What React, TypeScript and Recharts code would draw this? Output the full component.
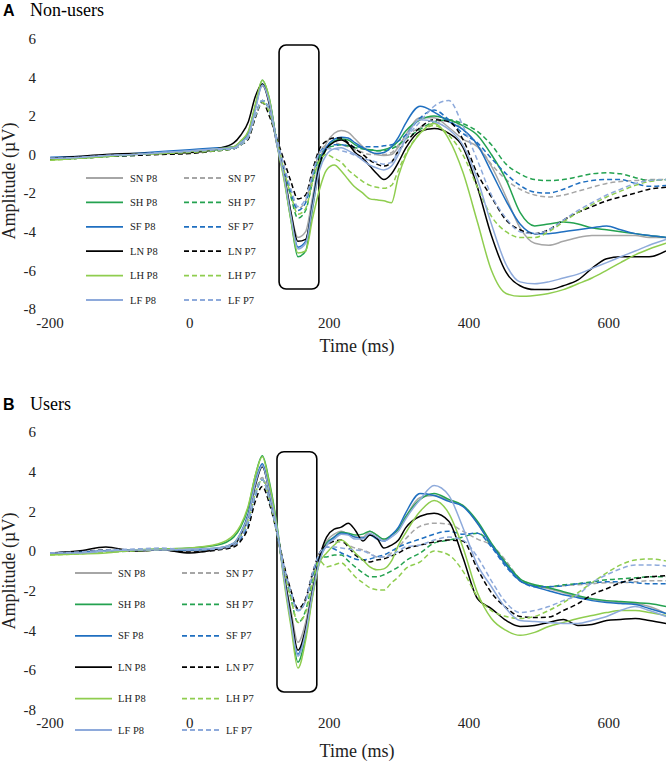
import { LineChart, Line, XAxis, YAxis, ReferenceArea, Legend } from "recharts";

// sample times (ms)
const timeMs = [
  -200, -160, -120, -80, -40, 0, 40,
  63, 73, 84, 94, 104, 114, 125, 135, 145, 155, 166, 176, 186, 196, 207, 217, 227,
  237, 248, 258, 268, 278, 289, 299, 309,
  330, 350, 371, 391, 412, 432, 453, 473, 494, 514, 535, 556, 576, 597, 617, 638, 658, 682,
];

const conditions = ["SN", "SH", "SF", "LN", "LH", "LF"];
const conditionColors = ["#a6a6a6", "#24a250", "#1f6fc0", "#000000", "#8fcd4f", "#8eaadb"];
const xTicks = [-200, 0, 200, 400, 600];
const yTicks = [-8, -6, -4, -2, 0, 2, 4, 6];

// A: Non-users
const nonSN_P8 = [-0.2,-0.15,-0.05,0,0.1,0.15,0.3, 0.4,0.7,1.2,2.5,3.55,2.7,0.6,-1.0,-3.0,-4.3,-4.0,-2.2,-0.3,0.6,1.1,1.25,1.15, 0.8,0.4,0.15,0,-0.05,0,0.4,1.0, 1.9,1.9,1.4,0.8,0.4,-0.6,-2.2,-3.8,-4.6,-4.7,-4.5,-4.3,-4.2,-4.2,-4.2,-4.2,-4.3,-4.3];
const nonSH_P8 = [-0.25,-0.2,-0.1,0,0.1,0.15,0.25, 0.35,0.6,1.1,2.5,3.85,2.9,0.6,-1.2,-3.4,-5.3,-5.0,-2.8,-0.6,0.3,0.7,0.8,0.75, 0.5,0.3,0.25,0.2,0.25,0.4,0.7,1.2, 1.8,2.0,1.8,1.5,1.0,0.0,-1.3,-3.0,-3.7,-3.6,-3.5,-3.6,-3.8,-3.9,-4.0,-4.1,-4.2,-4.3];
const nonSF_P8 = [-0.15,-0.1,-0.05,0.05,0.15,0.25,0.35, 0.4,0.65,1.1,2.4,3.65,2.8,0.6,-1.1,-3.2,-4.8,-4.5,-2.5,-0.4,0.4,0.8,0.9,0.85, 0.6,0.35,0.15,0.05,0.1,0.4,0.9,1.6, 2.5,2.2,1.7,1.3,0.5,-0.9,-2.4,-3.6,-4.1,-4.1,-4.0,-3.9,-3.8,-3.7,-3.9,-4.1,-4.2,-4.3];
const nonLN_P8 = [-0.2,-0.1,0,0.05,0.05,0.1,0.3, 0.6,1.0,1.7,3.0,3.65,2.6,0.5,-1.0,-3.0,-4.5,-4.4,-2.6,-0.5,0.3,0.65,0.75,0.55, 0.1,-0.2,-0.6,-1.0,-1.3,-1.0,-0.4,0.3, 1.2,1.35,1.1,0.4,-1.7,-4.2,-6.1,-6.8,-7.0,-7.0,-6.8,-6.5,-5.9,-5.4,-5.3,-5.3,-5.3,-5.0];
const nonLH_P8 = [-0.3,-0.2,-0.1,0,0.05,0.15,0.3, 0.4,0.7,1.2,2.6,3.85,2.9,0.5,-1.3,-3.4,-5.1,-5.0,-3.3,-1.8,-0.8,-0.55,-0.85,-1.3, -1.7,-2.0,-2.3,-2.35,-2.4,-2.5,-1.1,-0.1, 1.1,1.6,0.8,-0.9,-3.5,-6.0,-7.2,-7.35,-7.3,-7.2,-7.0,-6.7,-6.4,-6.0,-5.6,-5.2,-4.9,-4.6];
const nonLF_P8 = [-0.2,-0.15,-0.05,0,0.1,0.2,0.3, 0.35,0.6,1.0,2.3,3.6,2.7,0.5,-1.1,-3.2,-4.9,-4.6,-2.7,-0.8,0.0,0.3,0.35,0.2, 0.0,-0.3,-0.55,-0.7,-0.8,-0.6,0.0,0.8, 1.8,1.7,1.3,0.5,-1.3,-3.6,-5.7,-6.6,-6.7,-6.6,-6.4,-6.2,-5.9,-5.6,-5.3,-5.0,-4.7,-4.4];
const nonSN_P7 = [-0.2,-0.15,-0.1,0,0.05,0.1,0.2, 0.3,0.5,0.9,2.0,2.8,2.3,0.8,-0.6,-1.9,-2.8,-2.4,-1.1,0.1,0.5,0.6,0.5,0.4, 0.25,0.1,0,0,0,0.1,0.5,0.9, 1.4,1.6,1.8,1.3,0.5,-0.5,-1.3,-1.8,-2.1,-2.2,-2.1,-1.9,-1.7,-1.5,-1.4,-1.35,-1.3,-1.3];
const nonSH_P7 = [-0.25,-0.2,-0.1,-0.05,0.05,0.1,0.2, 0.3,0.5,0.9,2.0,2.8,2.3,0.7,-0.8,-2.2,-3.3,-2.9,-1.4,-0.1,0.3,0.45,0.5,0.45, 0.35,0.3,0.25,0.2,0.2,0.3,0.5,0.8, 1.3,1.7,1.8,1.6,1.2,0.5,-0.5,-1.0,-1.3,-1.35,-1.3,-1.15,-1.0,-0.95,-1.0,-1.2,-1.35,-1.3];
const nonSF_P7 = [-0.2,-0.15,-0.05,0,0.1,0.15,0.25, 0.3,0.5,0.9,2.0,2.8,2.3,0.7,-0.7,-2.0,-2.9,-2.5,-1.1,0.1,0.4,0.5,0.5,0.45, 0.4,0.4,0.4,0.4,0.45,0.5,0.7,1.0, 1.9,2.3,1.8,1.1,0.6,-0.2,-1.0,-1.6,-1.95,-2.0,-1.8,-1.5,-1.35,-1.3,-1.3,-1.5,-1.65,-1.6];
const nonLN_P7 = [-0.25,-0.2,-0.1,-0.05,0,0.05,0.2, 0.3,0.5,0.8,1.9,2.7,2.0,0.8,-0.3,-1.4,-2.3,-2.1,-0.8,0.3,0.7,0.85,0.85,0.6, 0.3,0,-0.3,-0.5,-0.6,-0.4,0.2,0.6, 1.4,1.8,1.7,0.8,-1.0,-2.2,-3.4,-3.9,-4.1,-3.9,-3.4,-3.0,-2.7,-2.4,-2.2,-2.0,-1.8,-1.7];
const nonLH_P7 = [-0.3,-0.2,-0.1,0,0.05,0.1,0.2, 0.3,0.5,0.9,2.0,2.7,2.2,0.7,-0.8,-2.1,-3.1,-2.8,-1.4,-0.3,0,-0.2,-0.4,-0.8, -1.1,-1.4,-1.6,-1.7,-1.75,-1.6,-0.8,0, 1.1,1.5,1.0,0,-1.7,-3.2,-4.0,-4.3,-4.3,-4.0,-3.5,-3.0,-2.6,-2.2,-1.9,-1.6,-1.4,-1.3];
const nonLF_P7 = [-0.2,-0.15,-0.05,0,0.1,0.15,0.25, 0.3,0.5,0.9,2.0,2.8,2.3,0.8,-0.6,-1.8,-2.7,-2.3,-1.0,0.1,0.3,0.3,0.2,0.1, -0.05,-0.2,-0.3,-0.4,-0.5,-0.4,0.2,0.8, 1.7,2.5,2.8,1.5,-0.3,-2.1,-3.3,-4.0,-4.1,-3.9,-3.4,-2.9,-2.5,-2.1,-1.8,-1.5,-1.35,-1.3];

// B: Users
const usrSN_P8 = [-0.1,-0.05,0,0,0.05,0,0.1, 0.3,0.8,1.8,3.4,4.3,3.0,1.1,-1.2,-3.0,-4.6,-3.6,-1.8,-0.3,0.5,0.85,1.0,0.85, 0.7,0.7,1.0,0.8,0.55,0.8,1.1,1.7, 2.7,2.8,2.55,2.3,1.4,0.3,-0.7,-1.5,-1.75,-1.9,-2.1,-2.3,-2.45,-2.55,-2.6,-2.65,-2.8,-3.15];
const usrSH_P8 = [-0.15,-0.1,0,0.05,0.1,0.15,0.3, 0.7,1.2,2.2,3.8,4.8,3.5,1.3,-1.3,-3.6,-5.6,-4.3,-2.2,-0.5,0.4,0.7,0.95,0.9, 0.8,0.85,1.0,0.8,0.6,0.8,1.1,1.7, 2.6,2.9,2.6,2.3,1.5,0.4,-0.6,-1.4,-1.7,-1.85,-2.05,-2.25,-2.4,-2.5,-2.55,-2.6,-2.65,-2.8];
const usrSF_P8 = [-0.1,-0.05,0,0.05,0.05,0.05,0.15, 0.4,0.9,1.9,3.5,4.4,3.1,1.1,-1.3,-3.4,-5.2,-4.0,-2.0,-0.4,0.3,0.7,0.9,0.85, 0.7,0.65,0.8,0.6,0.5,0.8,1.2,1.9, 2.9,2.8,2.5,2.25,1.4,0.3,-0.7,-1.5,-1.8,-2.0,-2.2,-2.35,-2.5,-2.6,-2.65,-2.7,-2.9,-3.15];
const usrLN_P8 = [-0.1,0,0.2,0,0.05,-0.1,0.1, 0.3,0.8,1.8,3.3,4.25,3.0,1.0,-1.2,-3.2,-5.0,-3.9,-2.0,-0.3,0.7,1.1,1.2,1.4, 1.05,0.5,0.8,0.65,0.15,0.3,0.55,1.15, 1.75,1.9,1.5,-0.3,-2.4,-2.9,-3.5,-3.8,-3.75,-3.6,-3.45,-3.75,-3.7,-3.5,-3.45,-3.4,-3.5,-3.65];
const usrLH_P8 = [-0.2,-0.15,-0.1,0.05,0.1,0.15,0.35, 0.8,1.3,2.3,3.8,4.75,3.4,1.2,-1.5,-3.8,-5.9,-4.5,-2.3,-0.6,-0.1,0.3,0.55,0.3, -0.1,-0.45,-0.8,-0.95,-0.9,-0.5,0.3,0.9, 2.0,2.55,1.9,0.2,-2.1,-3.4,-4.0,-4.25,-4.1,-3.8,-3.6,-3.4,-3.25,-3.1,-3.0,-3.0,-3.1,-3.25];
const usrLF_P8 = [-0.1,-0.1,0,0.05,0.05,0.1,0.15, 0.4,0.9,1.8,3.4,4.3,3.0,1.1,-1.3,-3.5,-5.3,-4.1,-2.1,-0.5,0.3,0.6,0.85,0.8, 0.6,0.6,0.9,0.7,0.5,0.7,1.0,1.6, 2.6,3.3,2.8,1.2,-0.7,-1.8,-2.9,-3.5,-3.55,-3.6,-3.65,-3.65,-3.5,-3.3,-3.0,-2.8,-3.0,-3.3];
const usrSN_P7 = [-0.1,-0.05,0,0.05,0.1,0.05,0.1, 0.3,0.7,1.6,3.0,3.7,2.7,1.0,-0.7,-2.0,-3.0,-2.5,-1.2,-0.2,0.3,0.45,0.45,0.3, 0.15,0.05,-0.1,-0.3,-0.3,-0.1,0.2,0.6, 1.25,1.4,1.35,1.0,0.6,0.3,-0.5,-1.4,-1.7,-1.8,-1.75,-1.7,-1.65,-1.6,-1.6,-1.55,-1.5,-1.5];
const usrSH_P7 = [-0.15,-0.1,-0.05,0,0.1,0.05,0.1, 0.3,0.7,1.5,2.9,3.6,2.6,0.9,-0.9,-2.4,-3.6,-3.0,-1.5,-0.3,-0.3,-0.2,-0.2,-0.5, -0.8,-1.1,-1.3,-1.3,-1.2,-1.0,-0.8,-0.5, -0.1,0.4,0.55,0.7,0.9,0.3,-0.7,-1.45,-1.75,-1.8,-1.7,-1.65,-1.55,-1.45,-1.4,-1.35,-1.3,-1.3];
const usrSF_P7 = [-0.1,-0.05,0,0.05,0.1,0.05,0.1, 0.3,0.6,1.4,2.8,3.6,2.6,0.9,-0.8,-2.1,-3.0,-2.5,-1.2,-0.2,0.2,0.1,-0.1,-0.25, -0.4,-0.45,-0.4,-0.3,-0.2,0,0.2,0.35, 0.6,0.85,1.0,0.85,0.9,0.2,-0.8,-1.5,-1.8,-1.8,-1.75,-1.65,-1.6,-1.55,-1.55,-1.6,-1.65,-1.65];
const usrLN_P7 = [-0.1,-0.05,0.05,0,0.05,-0.05,0.05, 0.2,0.5,1.2,2.5,3.25,2.4,0.9,-0.7,-2.0,-2.9,-2.4,-1.1,-0.1,0.3,0.5,0.55,0.2, -0.2,-0.45,-0.55,-0.45,-0.4,-0.25,-0.1,0.1, 0.3,0.45,0.55,0.5,-0.9,-2.1,-2.85,-3.3,-3.35,-3.33,-3.0,-2.65,-2.2,-1.9,-1.6,-1.4,-1.3,-1.25];
const usrLH_P7 = [-0.2,-0.15,-0.05,0,0.05,0.1,0.15, 0.4,0.8,1.6,2.9,3.6,2.6,0.9,-0.9,-2.4,-3.6,-3.1,-1.6,-0.5,-0.8,-0.7,-0.6,-0.9, -1.3,-1.6,-1.85,-1.95,-1.97,-1.6,-1.3,-0.9, -0.55,0,-0.2,-1.0,-2.3,-3.0,-3.3,-3.4,-3.3,-3.0,-2.6,-2.1,-1.6,-1.1,-0.7,-0.45,-0.4,-0.5];
const usrLF_P7 = [-0.1,-0.05,0.05,0.1,0.15,0.05,0.1, 0.3,0.7,1.5,2.9,3.6,2.6,0.9,-0.8,-2.1,-3.0,-2.5,-1.1,-0.1,0.2,0.2,0.15,0.1, 0.05,0,-0.15,-0.3,-0.3,-0.2,0,0.2, 0.3,0.55,0.7,0.55,-0.3,-1.5,-2.6,-3.1,-3.0,-2.8,-2.5,-2.2,-1.6,-1.2,-0.9,-0.7,-0.7,-0.75];

const nonUsersP8 = [nonSN_P8, nonSH_P8, nonSF_P8, nonLN_P8, nonLH_P8, nonLF_P8];
const nonUsersP7 = [nonSN_P7, nonSH_P7, nonSF_P7, nonLN_P7, nonLH_P7, nonLF_P7];
const usersP8 = [usrSN_P8, usrSH_P8, usrSF_P8, usrLN_P8, usrLH_P8, usrLF_P8];
const usersP7 = [usrSN_P7, usrSH_P7, usrSF_P7, usrLN_P7, usrLH_P7, usrLF_P7];

const series = conditions.flatMap((c, i) => [
  { name: `${c} P8`, color: conditionColors[i], dashed: false },
  { name: `${c} P7`, color: conditionColors[i], dashed: true },
]);

function buildRows(p8: number[][], p7: number[][]) {
  return timeMs.map((t, j) => {
    const row: Record<string, number> = { t };
    conditions.forEach((c, i) => {
      row[`${c} P8`] = p8[i][j];
      row[`${c} P7`] = p7[i][j];
    });
    return row;
  });
}

const serif = "'Liberation Serif', 'Times New Roman', serif";

function LegendGrid({ rowGap, l1, t1, l2, t2 }: any) {
  return (
    <svg width={270} height={10 + rowGap * 5 + 12}>
      {conditions.map((c, i) => {
        const y = 10 + i * rowGap;
        return (
          <g key={c}>
            <line x1={l1[0]} x2={l1[1]} y1={y} y2={y} stroke={conditionColors[i]} strokeWidth={1.8} />
            <text x={t1} y={y + 3.6} fontSize={10.5} fontFamily={serif} fill="#222">{`${c} P8`}</text>
            <line x1={l2[0]} x2={l2[1]} y1={y} y2={y} stroke={conditionColors[i]} strokeWidth={1.8} strokeDasharray="5 3" />
            <text x={t2} y={y + 3.6} fontSize={10.5} fontFamily={serif} fill="#222">{`${c} P7`}</text>
          </g>
        );
      })}
    </svg>
  );
}

function Panel({ data, top, height, marginTop, marginBottom, box, legend }: any) {
  return (
    <div style={{ position: "absolute", left: 0, top, width: 666, height }}>
      <LineChart width={666} height={height} data={data}
        margin={{ top: marginTop, right: 0, bottom: marginBottom, left: 0 }}>
        <XAxis dataKey="t" type="number" domain={[-200, 682]} ticks={xTicks} allowDataOverflow
          axisLine={false} tickLine={false} tickMargin={2} height={30} interval={0}
          tick={{ fontSize: 15, fontFamily: serif, fill: "#222" }} />
        <YAxis type="number" domain={[-8, 6]} ticks={yTicks} width={50} interval={0}
          axisLine={false} tickLine={false} tickMargin={8}
          tick={{ fontSize: 15, fontFamily: serif, fill: "#222" }} />
        {series.map((s) => (
          <Line key={s.name} dataKey={s.name} type="monotone" stroke={s.color} strokeWidth={1.5}
            strokeDasharray={s.dashed ? "5 3" : undefined} dot={false} activeDot={false}
            isAnimationActive={false} />
        ))}
        <ReferenceArea x1={box[0]} x2={box[1]} y1={box[2]} y2={box[3]} ifOverflow="extendDomain"
          shape={(p: any) => (
            <rect x={p.x} y={p.y} width={p.width} height={p.height} rx={7} ry={7}
              fill="none" stroke="#000" strokeWidth={1.6} />
          )} />
        <Legend layout="vertical" align="center" verticalAlign="middle"
          wrapperStyle={{ left: legend.left, top: legend.top, width: 270, height: 10 + legend.rowGap * 5 + 12 }}
          content={() => <LegendGrid {...legend} />} />
      </LineChart>
    </div>
  );
}

export default function App() {
  const nonUsers = buildRows(nonUsersP8, nonUsersP7);
  const users = buildRows(usersP8, usersP7);
  return (
    <div style={{ position: "absolute", left: 0, top: 0, width: 666, height: 763, background: "#fff", overflow: "hidden" }}>
      <Panel data={nonUsers} top={0} height={381} marginTop={38.7} marginBottom={42.1}
        box={[128, 185, -6.97, 5.67]}
        legend={{ left: 80, top: 168, rowGap: 24.4, l1: [6, 43], t1: 50, l2: [104, 142], t2: 148 }} />
      <Panel data={users} top={381} height={382} marginTop={50.9} marginBottom={23.2}
        box={[125, 182, -7.1, 5.0]}
        legend={{ left: 70, top: 182, rowGap: 31.4, l1: [5, 42], t1: 48, l2: [112, 150], t2: 156 }} />
      <svg width={666} height={763} style={{ position: "absolute", left: 0, top: 0, pointerEvents: "none" }}>
        <text x={3} y={16} fontSize={16} fontWeight="bold" fontFamily="'Liberation Sans', Arial, sans-serif">A</text>
        <text x={30} y={16} fontSize={18} fontFamily={serif}>Non-users</text>
        <text x={3} y={410} fontSize={16} fontWeight="bold" fontFamily="'Liberation Sans', Arial, sans-serif">B</text>
        <text x={30} y={410} fontSize={18} fontFamily={serif}>Users</text>
        <text transform="translate(15,181) rotate(-90)" textAnchor="middle" fontSize={18} fontFamily={serif} fill="#222">Amplitude (µV)</text>
        <text transform="translate(15,571) rotate(-90)" textAnchor="middle" fontSize={18} fontFamily={serif} fill="#222">Amplitude (µV)</text>
        <text x={357} y={352} textAnchor="middle" fontSize={18} fontFamily={serif} fill="#222">Time (ms)</text>
        <text x={357} y={757} textAnchor="middle" fontSize={18} fontFamily={serif} fill="#222">Time (ms)</text>
      </svg>
    </div>
  );
}
